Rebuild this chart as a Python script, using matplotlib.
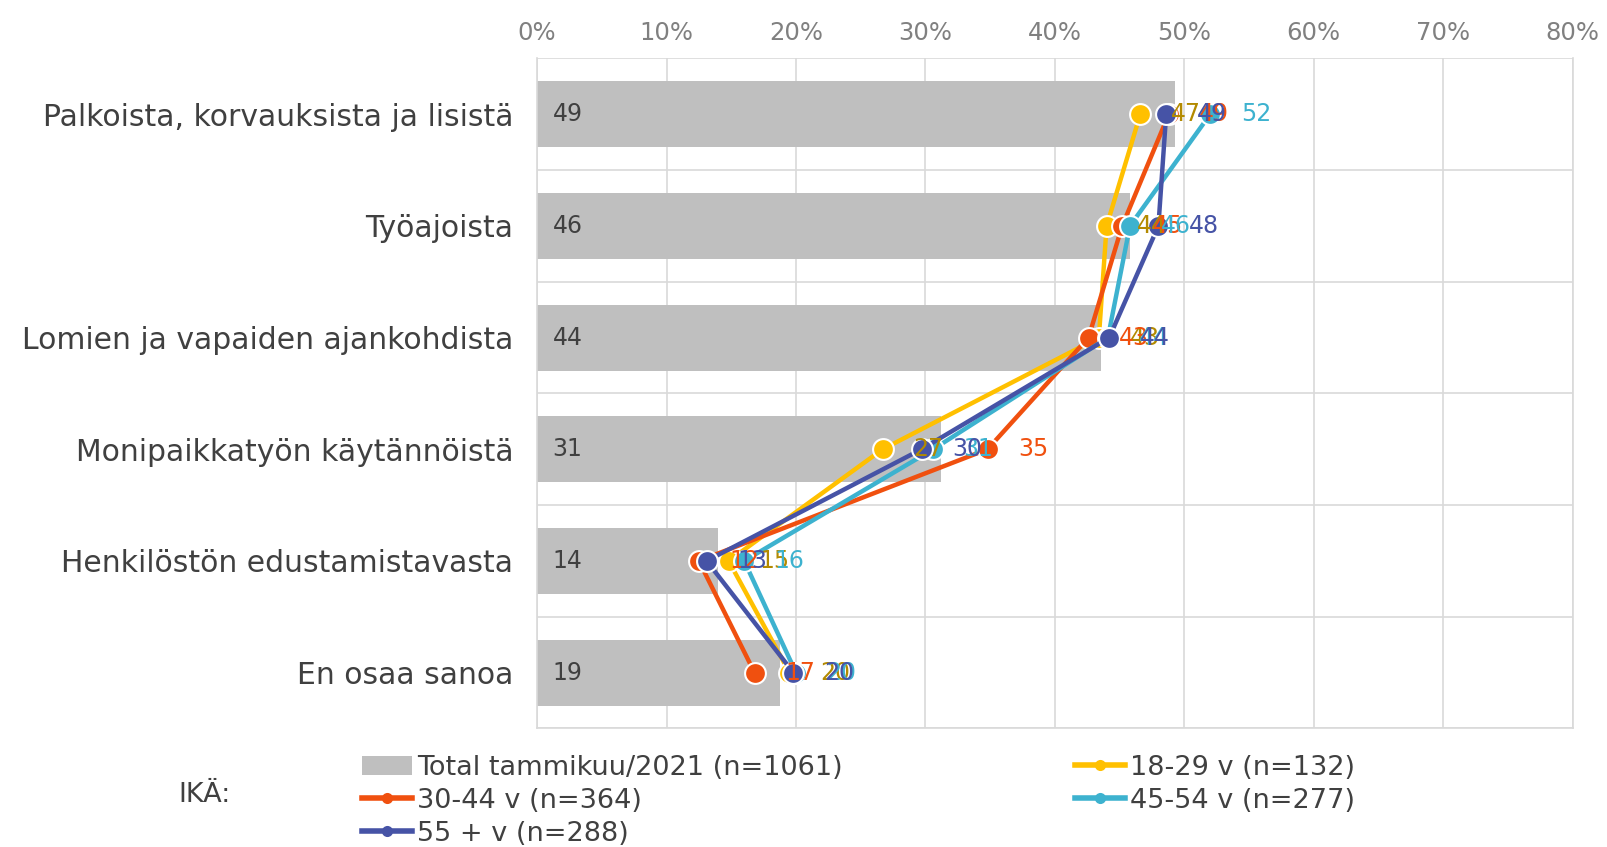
import matplotlib.pyplot as plt
import numpy as np

categories = ['Palkoista, korvauksista ja lisistä', 'Työajoista',
              'Lomien ja vapaiden ajankohdista', 'Monipaikkatyön käytännöistä',
              'Henkilöstön edustamistavasta', 'En osaa sanoa']
total = [49.3, 45.8, 43.6, 31.2, 14.0, 18.8]
age_18_29 = [46.6, 44.0, 43.4, 26.7, 14.8, 19.5]
age_30_44 = [48.8, 45.2, 42.6, 34.8, 12.5, 16.8]
age_45_54 = [52.0, 45.8, 44.1, 30.6, 16.0, 20.0]
age_55 = [48.6, 48.0, 44.2, 29.7, 13.1, 19.8]
x_ticks = [0, 10, 20, 30, 40, 50, 60, 70, 80]

series = [
    ('18-29 v (n=132)', age_18_29, '#FFC000', '#B38A00'),
    ('30-44 v (n=364)', age_30_44, '#F0500F', '#F0500F'),
    ('45-54 v (n=277)', age_45_54, '#3DB2CF', '#3DB2CF'),
    ('55 + v (n=288)', age_55, '#4653A6', '#4653A6'),
]

txt = '#404040'
grid = '#D9D9D9'
plt.rcParams['font.family'] = ['DejaVu Sans']

fig = plt.figure(figsize=(16.08, 8.47), dpi=100)
ax = fig.add_axes([0.334, 0.14, 0.644, 0.791])
y = np.arange(len(categories))

bars = ax.barh(y, total, height=0.59, color='#BFBFBF', zorder=2,
               label='Total tammikuu/2021 (n=1061)')
for yi, v in zip(y, total):
    ax.text(1.2, yi, f'{v:.0f}', va='center', ha='left', fontsize=17, color=txt, zorder=6)

handles = {}
for name, vals, col, lcol in series:
    ln, = ax.plot(vals, y, color=col, lw=3.2, marker='o', ms=15,
                  mec='white', mew=1.5, zorder=4, label=name)
    handles[name] = ln
    for yi, v in zip(y, vals):
        ax.annotate(f'{v:.0f}', (v, yi), xytext=(22, 0), textcoords='offset points',
                    va='center', ha='left', fontsize=17, color=lcol, zorder=7)

ax.set_xlim(0, 80)
ax.set_ylim(len(categories) - 0.5, -0.5)
ax.set_xticks(x_ticks)
ax.set_xticklabels([f'{t}%' for t in x_ticks])
ax.xaxis.tick_top()
ax.tick_params(axis='x', length=0, labelsize=17.5, labelcolor='#808080', pad=10)
ax.set_yticks(y)
ax.set_yticklabels(categories)
ax.tick_params(axis='y', length=0, labelsize=21.5, labelcolor=txt, pad=17)
ax.set_yticks(np.arange(-0.5, len(categories)), minor=True)
ax.tick_params(axis='y', which='minor', length=0)
ax.grid(axis='x', color=grid, lw=1.2, zorder=0)
ax.grid(axis='y', which='minor', color=grid, lw=1.2, zorder=0)
for s in ax.spines.values():
    s.set_color(grid)
    s.set_linewidth(1.2)
ax.spines['top'].set_visible(False)

order = [bars, handles['30-44 v (n=364)'], handles['55 + v (n=288)'],
         handles['18-29 v (n=132)'], handles['45-54 v (n=277)']]
leg = fig.legend(handles=order, labels=[h.get_label() for h in order],
                 loc='upper left', bbox_to_anchor=(0.225, 0.109), ncol=2,
                 frameon=False, fontsize=19.5, labelcolor=txt,
                 handlelength=1.85, handletextpad=0.2, columnspacing=8.55,
                 labelspacing=0.26, borderpad=0, borderaxespad=0)
for h in leg.legend_handles[1:]:
    h.set_markersize(8)
    h.set_markeredgewidth(0)
    h.set_linewidth(4)
fig.text(0.111, 0.061, 'IKÄ:', fontsize=19.5, color=txt, va='center')

fig.savefig('out.png', dpi=100)
